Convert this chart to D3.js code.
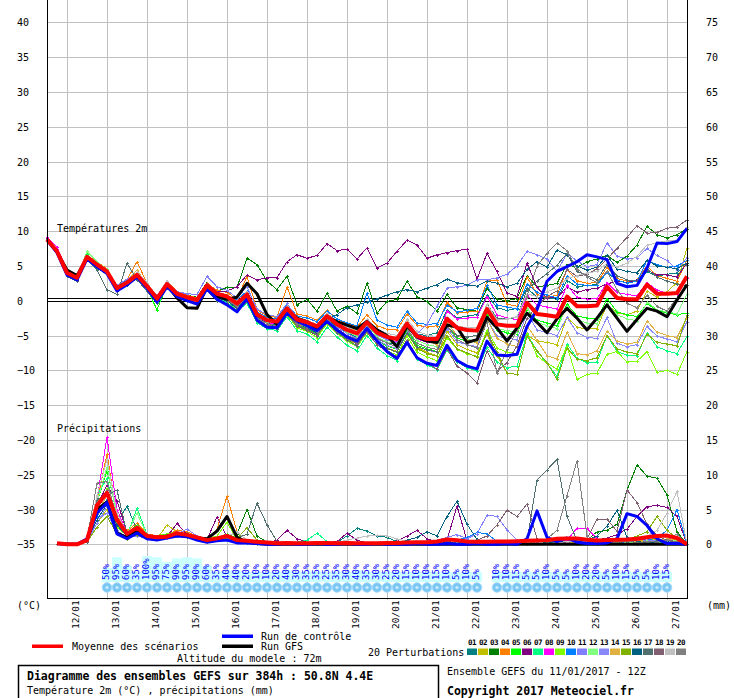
<!DOCTYPE html>
<html>
<head>
<meta charset="utf-8">
<script src="https://cdn.jsdelivr.net/npm/d3@7"></script>
<style>
body { margin: 0; background: #fff; }
text { font-family: "DejaVu Sans Mono", monospace; fill: #000; }
</style>
</head>
<body>
<svg id="chart" width="734" height="698"></svg>
<script>
// ---- data (6-hourly steps from 11/01 12Z, 0..384h) ----
const dateLabels = ["12/01","13/01","14/01","15/01","16/01","17/01","18/01","19/01","20/01","21/01","22/01","23/01","24/01","25/01","26/01","27/01"];
const tempTicks = [-35,-30,-25,-20,-15,-10,-5,0,5,10,15,20,25,30,35,40];
const precTicks = [0,5,10,15,20,25,30,35,40,45,50,55,60,65,70,75];
const pertColors = ["#008080","#c0c000","#008000","#ff8000","#00ff00","#800080","#00ff80","#ff00ff","#80ff00","#0080ff",
                    "#8080ff","#80ff80","#8888f8","#e0b040","#80b000","#006080","#507070","#806070","#c0c0c0","#808080"];

const meanT = [8.8,7.1,4.0,3.3,6.3,5.2,4.2,1.8,2.6,3.7,2.1, 0.3,2.4,1.0,0.5,0.1,2.2,1.0,0.6,-0.4,0.9,
  -2.0,-2.8,-3.0,-1.1,-2.7,-3.1,-3.7,-2.2,-3.4,-4.2,-4.7,-3.1, -4.6,-5.2,-5.5,-3.3,-5.1,-5.5,-5.5,-2.6,-3.9,-4.2,-4.3,-1.2,
  -3.4,-3.6,-3.6,-0.3,-1.9,-2.1,-2.3,0.6,-0.8,-0.8, -0.7,2.0,0.4,0.2,0.2,2.3,1.0,1.0,1.1,3.5];
const controlT = [8.7,6.9,3.7,3.0,6.0,4.9,3.9,1.4,2.3,3.4,1.8, -0.2,2.0,0.6,0.0,-0.5,1.7,0.2,-0.6,-1.6,0.3,
  -2.8,-3.8,-3.9,-1.8,-2.9,-3.6,-4.3,-3.0,-4.2,-5.2,-5.8,-4.0, -5.8,-7.3,-8.3,-6.0,-8.2,-9.0,-9.3,-6.4,-8.6,-9.4,-9.8,-5.8,
  -7.8,-7.9,-7.7,-3.7,-1.3,2.8,4.2,4.9,5.6,6.6, 6.3,5.9,2.5,2.0,2.2,4.7,8.3,8.2,8.5,10.4];
const gfsT = [8.8,7.0,4.4,3.6,6.2,5.0,4.1,1.7,2.5,3.6,2.0, 0.2,2.2,0.4,-1.0,-1.1,2.0,0.6,0.2,0.5,2.5,
  1.0,-2.0,-3.4,-1.2,-2.5,-3.0,-4.0,-2.3,-3.0,-3.5,-4.0,-3.0, -4.2,-5.0,-6.6,-3.6,-5.2,-5.8,-6.0,-3.5,-3.8,-6.0,-5.6,-2.4,
  -3.9,-5.8,-3.9,-1.8,-3.1,-4.6,-2.6,-1.1,-2.5,-4.2, -2.5,-0.6,-2.5,-4.4,-2.7,-1.1,-1.5,-2.3,0.1,2.3];

const tempP01 = [8.9,6.8,3.6,2.9,6.0,4.6,3.9,1.5,2.3,3.3,1.9, 0.0,2.1,0.5,0.1,-0.2,1.8,0.5,0.4,-0.9,0.3,
  -2.6,-3.2,-3.5,-1.8,-3.3,-3.8,-4.5,-2.7,-3.8,-4.6,-5.3,-3.8, -5.4,-6.0,-6.3,-3.4,-4.8,-5.0,-4.6,-1.3,-2.5,-2.2,-2.0,0.8,
  -1.0,-1.4,-1.1,1.8,0.5,0.4,0.2,2.9,2.0,2.2, 2.3,4.1,2.9,2.6,2.8,4.2,3.5,3.8,4.0,5.2];
const tempP02 = [8.6,7.0,4.2,3.5,6.6,5.5,4.5,2.0,2.8,4.1,2.4, 0.6,2.6,1.1,0.4,-0.1,1.9,0.6,0.1,-1.1,0.2,
  -2.7,-3.5,-3.8,-1.6,-3.4,-4.0,-4.9,-3.1,-4.5,-5.6,-6.2,-4.1, -5.9,-6.8,-7.3,-4.8,-6.7,-7.4,-7.9,-4.4,-6.3,-7.0,-7.5,-4.8,
  -7.9,-10.4,-10.6,-5.0,-5.8,-6.0,-6.3,-2.4,-3.8,-4.1, -4.0,-0.5,-1.8,-2.0,-1.5,1.4,0.5,1.3,2.6,7.6];
const tempP03 = [8.8,7.3,4.3,3.6,6.5,5.4,4.4,2.2,2.5,3.6,2.0, 0.4,2.6,1.2,0.8,0.5,2.6,1.4,1.9,1.9,6.1,
  5.2,2.8,1.6,3.5,-0.6,0.2,-1.5,1.1,-1.5,-0.8,-1.8,2.5, -1.8,-0.1,0.2,2.8,0.6,-0.1,-1.5,0.9,-1.0,-1.3,-1.5,1.8,
  0.2,0.0,0.3,3.6,2.0,2.2,2.5,5.2,4.8,5.6, 6.0,6.5,5.5,6.4,8.0,10.7,9.5,9.0,9.5,10.3];
const tempP04 = [8.7,7.2,4.1,3.4,6.4,5.6,4.6,2.1,3.0,5.6,2.5, 0.6,2.9,1.3,0.8,0.4,2.5,1.5,1.2,0.2,3.5,
  -1.3,-2.2,-2.4,2.0,-1.9,-2.2,-2.8,-1.4,-2.6,-3.3,-3.8,-2.0, -3.6,-4.1,-4.2,-1.9,-3.5,-3.8,-3.6,-0.2,-1.8,-1.6,-1.5,2.8,
  3.0,-0.5,-0.8,3.4,0.9,0.5,0.8,4.5,2.9,2.5, 2.6,4.8,3.2,2.8,3.0,5.0,3.6,3.2,2.8,5.8];
const tempP05 = [8.9,7.0,3.8,3.1,6.8,5.0,3.9,1.6,2.2,3.2,1.7, -1.3,2.2,0.7,0.3,0.0,2.0,0.8,0.0,-1.0,0.5,
  -2.4,-3.6,-3.9,-1.5,-3.5,-4.0,-4.8,-2.6,-4.2,-5.3,-6.0,-4.0, -5.7,-6.5,-7.0,-4.2,-6.4,-6.9,-7.3,-3.6,-5.4,-5.8,-6.0,-2.0,
  -4.2,-4.6,-4.8,-1.2,-2.8,-3.2,-3.6,-0.5,-2.2,-2.5, -2.6,0.3,-1.6,-2.0,-2.3,-0.4,-1.4,-1.8,-2.0,-1.8];
const tempP06 = [9.0,7.0,3.7,3.0,6.2,5.1,4.0,1.7,2.5,3.5,2.0, 0.2,2.3,0.9,0.3,0.1,2.2,1.3,1.4,2.0,3.7,
  3.0,3.3,3.3,5.6,6.6,6.1,6.5,8.2,7.2,7.4,6.0,7.6, 4.7,5.4,7.1,8.7,8.0,6.1,6.6,6.9,7.2,7.4,3.1,6.8,
  4.2,1.1,0.6,5.4,1.9,0.4,0.4,2.0,1.2,1.6, 1.8,2.4,2.8,2.6,3.0,4.4,3.7,3.7,3.4,5.4];
const tempP07 = [8.7,7.1,4.1,3.4,6.5,5.3,4.3,1.9,2.7,3.9,2.2, 0.2,2.4,1.0,0.2,-0.3,1.6,0.3,-0.2,-1.4,-0.4,
  -3.2,-4.0,-4.3,-2.3,-4.3,-4.8,-5.9,-3.8,-5.2,-6.4,-7.2,-5.0, -6.8,-7.9,-8.6,-6.0,-8.4,-9.2,-9.9,-7.1,-8.8,-9.6,-10.1,-6.7,
  -8.8,-9.6,-9.4,-4.8,-7.2,-9.0,-10.9,-6.2,-8.3,-8.9, -8.8,-5.0,-7.3,-7.8,-7.9,-4.6,-6.6,-7.2,-7.6,-5.1];
const tempP08 = [9.1,7.7,4.3,3.3,6.1,5.0,4.0,1.5,2.3,3.6,2.0, 0.2,2.3,0.9,0.4,0.0,2.1,0.9,0.4,-0.6,0.8,
  -2.3,-3.1,-3.4,-1.2,-3.0,-3.5,-4.0,-2.2,-3.6,-4.4,-4.9,-3.3, -4.8,-5.5,-5.9,-3.7,-5.5,-6.0,-6.1,-1.5,-2.6,-2.5,-2.4,0.6,
  -2.0,-2.5,-2.7,0.8,-0.6,-0.9,-1.2,2.2,0.5,0.2, 0.3,2.6,1.2,0.9,0.7,2.6,1.5,1.1,0.9,3.2];
const tempP09 = [8.6,6.9,3.9,3.2,6.2,5.1,4.1,1.8,2.6,3.8,2.1, 0.1,2.2,0.8,0.3,-0.1,1.8,0.5,0.0,-1.2,0.0,
  -2.9,-3.8,-4.1,-2.0,-3.9,-4.4,-5.3,-3.3,-4.7,-5.8,-6.6,-4.6, -6.3,-7.2,-7.8,-5.1,-7.4,-8.1,-8.6,-5.3,-7.0,-7.6,-8.0,-4.2,
  -6.8,-7.4,-7.6,-4.6,-7.9,-9.0,-9.8,-6.5,-11.3,-10.6, -10.4,-7.7,-7.3,-8.8,-8.7,-7.3,-10.3,-10.0,-10.6,-7.3];
const tempP10 = [8.8,7.2,4.1,3.5,6.3,5.2,4.3,2.0,2.9,3.9,2.2, 0.5,2.5,1.1,0.6,0.2,2.4,1.2,0.8,0.1,1.4,
  -1.6,-2.4,-2.6,-0.6,-2.2,-2.5,-3.0,-1.5,-2.6,-3.2,-3.6,1.1, -2.8,-3.5,-3.8,-1.5,-3.2,-3.4,-3.3,-0.6,-1.6,-1.4,-1.1,2.2,
  -0.6,-0.9,-1.2,2.4,1.2,0.8,0.4,3.6,2.4,2.2, 2.2,4.1,3.0,2.5,2.8,5.8,5.2,4.8,5.0,5.8];
const tempP11 = [8.9,7.2,4.0,3.2,6.4,5.3,4.4,2.2,3.1,4.0,2.4, 0.7,2.7,1.3,1.0,0.9,3.5,2.0,1.5,0.4,2.0,
  -1.2,-2.0,-2.3,-0.4,-2.4,-3.0,-3.6,-2.4,-3.8,-4.7,-5.4,-3.6, -4.9,-5.6,-6.0,-3.2,-4.8,-3.4,-0.8,1.8,2.0,2.2,3.0,3.0,
  3.3,3.8,5.0,7.1,6.6,6.0,4.2,6.8,5.7,4.9, 5.2,8.3,6.4,6.0,6.2,7.5,6.5,5.8,4.4,6.2];
const tempP12 = [8.7,7.0,4.0,3.3,7.1,5.6,4.5,2.0,2.7,3.9,2.3, 0.3,2.4,0.9,0.2,-0.1,2.3,0.9,0.5,-0.6,1.2,
  -2.2,-3.0,-3.2,-0.9,-2.8,-3.4,-4.1,-2.0,-3.5,-4.5,-5.1,-3.4, -5.2,-5.9,-6.2,-3.5,-5.7,-6.3,-6.6,-3.2,-5.0,-5.5,-5.9,-1.4,
  -4.0,-4.3,-4.5,-1.0,-3.1,-3.6,-4.0,-0.8,-2.7,-3.2, -3.3,-0.4,-2.0,-2.6,-2.9,-0.2,-1.3,-1.6,-1.9,0.9];
const tempP13 = [8.8,7.1,4.0,3.4,6.2,5.1,4.2,1.8,2.5,3.6,2.1, 0.3,2.3,0.9,0.4,0.3,2.0,0.8,0.3,-0.5,0.7,
  -2.4,-3.3,-3.6,-1.4,-3.1,-3.7,-4.4,-2.8,-4.1,-5.0,-5.7,-3.9, -5.6,-6.4,-6.9,-4.5,-6.6,-7.1,-7.4,-4.0,-5.9,-6.3,-6.6,-2.7,
  -5.1,-5.4,-5.6,-1.8,-4.2,-4.6,-5.0,-2.4,-4.6,-5.3, -5.4,-2.4,-6.1,-6.6,-6.3,-3.7,-5.1,-5.5,-5.9,-3.0];
const tempP14 = [8.7,7.0,4.2,3.4,6.0,5.3,4.4,1.9,2.8,4.4,2.3, 0.4,2.6,1.2,0.7,0.3,2.3,1.1,0.9,-0.1,1.0,
  -1.8,-2.6,-2.9,-0.8,-2.5,-2.9,-3.5,-1.8,-3.0,-3.8,-4.4,-2.8, -4.4,-5.1,-5.5,-3.1,-5.1,-5.8,-6.3,-3.1,-5.0,-5.6,-6.1,-2.7,
  -5.4,-6.2,-6.6,-3.6,-5.7,-7.9,-8.4,-4.5,-7.6,-7.8, -7.2,-4.4,-5.8,-6.2,-6.0,-2.9,-4.5,-5.0,-5.3,-2.4];
const tempP15 = [8.8,7.0,3.9,3.2,6.3,5.1,4.1,1.7,2.6,3.8,2.2, 0.3,2.4,1.0,0.4,0.0,2.0,0.7,0.2,-0.8,0.5,
  -2.7,-3.6,-3.8,-1.9,-3.7,-4.3,-5.0,-3.1,-4.5,-5.5,-6.1,-4.2, -6.0,-6.9,-7.4,-4.6,-6.9,-7.6,-8.0,-5.0,-6.9,-7.5,-8.1,-4.6,
  -7.4,-10.4,-10.6,-5.1,-7.2,-8.9,-11.3,-6.8,-8.4,-8.6, -8.2,-5.0,-6.9,-7.4,-7.6,-4.8,-6.0,-6.2,-6.5,-2.0];
const tempP16 = [8.8,6.9,3.6,2.8,5.8,4.7,3.8,1.4,2.2,3.4,1.8, 0.0,2.1,0.6,0.1,-0.3,1.6,0.4,0.0,-1.1,0.2,
  -2.4,-3.3,-3.7,-1.4,-3.2,-3.9,-4.6,-2.5,-2.0,-1.0,-0.6,-0.2, 0.3,0.8,1.3,1.6,1.3,1.8,2.3,3.1,2.6,2.3,2.1,2.8,
  2.5,2.0,2.5,4.5,5.6,4.8,7.3,6.6,5.0,4.4, 4.8,6.5,4.6,4.2,4.0,5.8,5.0,4.8,4.6,5.4];
const tempP17 = [8.7,6.8,3.5,2.8,5.9,4.4,1.6,0.9,5.4,3.0,1.4, -0.3,1.8,0.4,0.0,-0.4,1.5,0.0,-0.4,-1.5,-0.1,
  -2.8,-3.6,-4.0,-1.7,-3.6,-4.2,-5.0,-3.0,-4.6,-5.6,-6.5,-4.3, -6.0,-6.8,-7.4,-4.6,-6.6,-7.1,-7.3,-3.7,-5.0,-5.2,-5.0,-0.5,
  -2.5,-2.6,-2.4,1.6,2.8,3.9,5.1,6.8,4.2,3.6, 3.0,5.2,3.6,3.0,2.8,4.6,3.4,2.8,2.4,2.2];
const tempP18 = [8.8,7.0,3.9,3.1,6.2,5.0,4.0,1.6,2.4,3.5,1.9, 0.1,2.2,0.8,0.2,-0.2,1.9,0.6,0.1,-0.9,0.4,
  -2.6,-3.5,-3.8,-1.7,-3.5,-4.1,-4.9,-2.9,-4.3,-5.4,-6.2,-4.5, -6.3,-7.3,-8.0,-5.6,-8.1,-9.0,-9.8,-6.9,-9.4,-10.4,-11.8,-7.2,
  -10.1,-8.9,-6.5,-2.5,-0.8,0.6,1.4,4.5,3.5,3.8, 4.6,6.0,7.5,9.1,10.8,9.7,9.8,10.4,10.6,11.6];
const tempP19 = [8.8,7.1,4.1,3.5,6.4,5.3,4.3,1.9,2.7,4.1,2.6, 0.6,2.9,1.0,0.6,0.2,2.2,1.0,0.5,-0.2,1.3,
  -1.9,-2.7,-2.9,-0.8,-2.4,-2.8,-3.4,-1.8,-3.0,-3.8,-4.2,-2.6, -4.1,-4.7,-5.0,-2.7,-4.4,-4.9,-5.2,-2.4,-3.6,-3.9,-3.8,-0.5,
  -2.8,-2.6,-2.3,1.0,0.6,1.3,1.8,3.2,3.6,4.0, 4.2,5.4,4.8,5.4,6.4,8.0,8.3,8.6,8.7,10.6];
const tempP20 = [8.9,7.2,4.0,3.3,6.2,5.0,4.0,1.6,2.4,3.6,2.0, -0.1,2.1,0.7,0.3,-0.2,1.9,0.6,0.2,-0.8,0.6,
  -2.5,-3.3,-3.6,-1.5,-3.3,-3.8,-4.5,-2.7,-4.0,-5.0,-5.5,-3.8, -5.4,-6.1,-6.6,-4.0,-6.1,-6.7,-7.0,-3.6,-5.6,-6.3,-6.8,-3.0,
  -10.4,-7.0,-4.2,0.6,5.0,6.8,8.3,7.2,4.6,3.4, 2.6,4.2,1.6,-0.4,-1.0,0.8,-0.8,-1.5,0.4,2.2];

// precipitation (mm per 6h), first step has no value
const meanP = [null, 0.15,0,0,0.6,5.6,7.4,3.5,1.5,2.4,1.2, 1.0,1.1,1.6,1.35,1.0,0.6,0.85,1.2,0.6,0.5,
  0.35,0.25,0.15,0.2,0.15,0.15,0.2,0.2,0.15,0.2, 0.15,0.15,0.15,0.2,0.2,0.25,0.3,0.3,0.4,0.7,
  0.6,0.4,0.35,0.35,0.4,0.4,0.45,0.5,0.55,0.6, 0.8,0.85,0.85,0.65,0.55,0.6,0.65,0.7,0.8,1.0, 1.2,1.25,0.9,0.0];
const controlP = [null, 0.1,0,0,0.8,4.5,6.0,1.5,0.8,1.6,0.8, 0.6,0.9,1.2,1.1,0.6,0.3,0.5,0.6,0.2,0.2,
  0.1,0.0,0.0,0.1,0.0,0.0,0.1,0.0,0.0,0.1, 0.0,0.0,0.1,0.0,0.0,0.0,0.1,0.0,0.0,0.1,
  0.0,0.0,0.1,0.0,0.0,0.1,0.0,0.8,4.8,1.0, 0.4,0.9,0.3,0.1,0.1,0.2,0.8,4.4,4.0,2.7, 0.8,0.1,0.1,0.0];
const gfsP = [null, 0.1,0,0,0.6,5.0,6.1,1.6,1.0,2.0,1.2, 1.0,1.2,1.4,1.2,0.9,0.8,1.9,4.0,1.0,0.3,
  0.1,0.0,0.0,0.0,0.0,0.0,0.0,0.0,0.0,0.0, 0.0,0.0,0.0,0.0,0.0,0.0,0.0,0.0,0.0,0.0,
  0.0,0.0,0.0,0.0,0.0,0.0,0.0,0.0,0.0,0.0, 0.0,0.0,0.0,0.0,0.0,0.0,0.0,0.0,0.0,0.0, 0.0,0.0,0.0,0.0];

const precP01 = [null, 0.1,0,0,0.6,4.5,6.0,3.0,5.5,2.0,1.0, 0.8,1.2,1.5,1.0,0.8,0.4,0.6,1.0,0.3,0.2,
  0.1,0.1,0.2,0.1,0.0,0.1,0.2,0.1,0.3,1.2, 2.3,1.9,1.2,1.0,0.4,0.1,0.2,0.1,0.0,0.1,
  0.2,0.1,0.0,0.0,0.1,0.2,0.0,0.1,0.3,0.2, 0.1,0.0,0.1,0.2,0.0,0.1,0.3,0.2,0.1,0.2, 0.5,0.3,0.2,0.0];
const precP02 = [null, 0.1,0,0,0.3,3.0,5.0,2.0,1.0,1.5,0.8, 0.8,2.8,1.8,1.2,0.8,0.4,0.6,1.0,0.4,0.3,
  0.2,0.1,0.0,0.1,0.0,0.2,0.1,0.0,0.1,0.2, 0.1,0.0,0.1,0.2,0.1,0.0,0.0,0.1,0.2,0.1,
  0.0,0.1,0.2,0.1,0.0,0.1,0.2,0.3,0.1,0.2, 0.4,0.2,0.1,0.3,0.2,0.1,0.2,0.4,0.6,0.5, 0.8,0.6,0.9,0.0];
const precP03 = [null, 0.1,0,0,0.5,5.0,7.5,3.5,1.2,2.2,1.0, 1.0,1.0,1.8,1.5,1.0,0.5,0.8,1.2,1.5,5.0,
  1.2,0.3,0.1,0.2,0.1,0.0,0.1,0.2,0.1,0.0, 0.1,0.0,0.0,0.1,0.2,0.0,0.1,0.0,0.1,0.3,
  0.2,0.1,0.0,0.1,0.0,0.2,0.1,0.0,0.1,0.2, 0.3,0.2,0.4,0.6,1.8,2.0,2.9,7.8,11.4,9.8, 9.5,7.1,1.8,0.0];
const precP04 = [null, 0.1,0,0,0.4,6.0,13.0,4.0,2.0,3.0,1.5, 1.2,1.4,2.0,1.8,1.2,0.8,2.2,6.9,1.8,0.6,
  0.4,0.2,0.1,0.0,0.1,0.0,0.2,0.1,0.0,0.1, 0.0,0.1,0.0,0.1,0.0,0.2,0.1,0.0,0.0,0.1,
  0.1,0.0,0.1,0.2,0.0,0.1,0.0,0.1,0.2,0.1, 0.0,0.2,0.3,0.1,0.2,0.4,0.3,0.2,0.5,0.4, 0.6,0.4,0.8,0.0];
const precP05 = [null, 0.1,0,0,0.7,6.0,10.6,4.5,1.5,2.8,1.2, 1.0,1.2,1.5,1.2,0.9,0.6,0.9,1.5,0.8,0.4,
  0.3,0.2,0.1,0.1,0.0,0.1,0.0,0.1,0.2,0.0, 0.1,0.0,0.1,0.0,0.2,0.1,0.0,0.1,0.0,0.2,
  0.1,0.0,0.1,0.0,0.1,0.0,0.2,0.1,0.0,0.1, 0.2,0.1,0.3,0.2,0.1,0.3,0.4,0.2,0.3,0.5, 0.4,0.3,0.6,0.0];
const precP06 = [null, 0.1,0,0,0.5,5.5,8.5,6.2,1.8,2.0,1.0, 0.9,1.1,3.0,1.4,1.0,0.7,3.9,1.0,0.5,0.3,
  0.2,0.2,0.6,2.0,0.8,0.3,0.1,0.2,0.4,1.6, 0.6,0.2,0.1,0.2,0.5,1.2,2.0,0.8,0.3,0.6,
  5.5,0.5,0.2,0.1,0.2,0.3,0.1,0.2,0.4,0.6, 0.3,0.2,0.4,0.3,0.6,0.9,1.4,2.2,4.0,5.4, 5.6,5.3,4.0,0.0];
const precP07 = [null, 0.1,0,0,0.4,7.0,9.5,3.0,1.2,5.2,1.4, 1.1,1.0,1.4,1.6,1.0,0.6,0.8,1.0,0.4,0.3,
  0.2,0.1,0.0,0.1,0.3,0.6,1.6,0.4,0.1,0.0, 0.1,0.0,0.0,0.1,0.0,0.2,0.1,0.0,0.1,0.0,
  0.0,0.1,0.0,0.2,0.1,0.0,0.1,0.0,0.2,0.1, 0.1,0.0,0.2,0.1,0.0,0.2,0.1,0.3,0.2,0.1, 0.3,0.2,0.4,0.0];
const precP08 = [null, 0.1,0,0,0.6,6.5,15.4,5.0,1.6,2.5,1.2, 0.9,1.0,1.6,1.2,1.0,0.5,0.7,1.1,0.5,0.4,
  0.2,0.1,0.2,0.0,0.1,0.2,0.1,0.0,0.1,0.2, 0.0,0.1,0.0,0.1,0.2,0.0,0.1,0.2,0.0,0.1,
  0.2,0.1,0.0,0.1,0.0,0.1,0.2,0.1,0.3,0.2, 0.4,0.6,2.3,2.3,0.8,0.3,0.2,0.4,0.3,0.5, 0.6,0.4,0.5,0.0];
const precP09 = [null, 0.1,0,0,0.5,5.0,8.0,2.5,1.2,1.8,1.0, 1.2,1.5,1.8,1.4,1.0,0.8,1.2,3.2,0.6,0.4,
  0.3,0.1,0.0,0.1,0.2,0.0,0.1,0.0,0.1,0.0, 0.2,0.1,0.0,0.1,0.0,0.1,0.0,0.2,0.1,0.0,
  0.1,0.2,0.0,0.1,0.0,0.1,0.0,0.1,0.2,0.0, 0.1,0.2,0.3,0.1,0.2,0.1,0.3,0.2,0.4,0.3, 0.5,0.2,0.3,0.0];
const precP10 = [null, 0.1,0,0,0.8,4.0,6.5,2.0,1.0,1.5,0.9, 0.8,0.9,1.3,1.0,0.7,0.4,0.6,0.9,0.3,0.2,
  0.1,0.0,0.1,0.0,0.1,0.2,0.0,0.1,0.0,0.1, 0.2,0.1,0.0,0.1,0.0,0.0,0.1,0.3,0.2,0.4,
  0.6,1.0,1.7,1.5,0.4,0.2,0.1,0.0,0.2,0.1, 0.2,0.1,0.0,0.2,0.1,0.3,0.2,0.4,0.8,0.6, 0.9,2.0,5.0,0.0];
const precP11 = [null, 0.1,0,0,0.3,3.5,4.5,1.8,0.9,1.2,0.8, 0.7,0.9,1.4,2.2,1.2,0.6,0.7,1.0,0.4,0.3,
  0.2,0.1,0.0,0.1,0.0,0.1,0.2,0.0,0.1,0.2, 0.1,0.0,0.2,0.1,0.3,0.5,0.4,0.2,0.6,1.0,
  1.4,0.8,1.5,4.2,4.0,2.1,0.6,0.3,0.2,0.4, 0.3,0.2,0.5,0.4,0.2,0.6,0.8,0.5,0.3,0.6, 0.4,0.5,0.7,0.0];
const precP12 = [null, 0.1,0,0,0.6,6.0,11.1,4.0,1.4,4.5,1.3, 1.0,1.1,1.5,1.3,0.8,0.5,0.8,1.2,0.5,0.3,
  0.2,0.1,0.0,0.2,0.1,0.0,0.1,0.2,0.0,0.1, 0.0,0.1,0.2,0.0,0.1,0.0,0.2,0.1,0.0,0.1,
  0.0,0.1,0.2,0.0,0.1,0.2,0.0,0.1,0.0,0.2, 0.1,0.3,0.2,0.1,0.3,0.2,0.4,0.3,0.2,0.5, 0.3,0.4,0.6,0.0];
const precP13 = [null, 0.1,0,0,0.4,3.0,5.5,2.0,1.0,1.6,1.0, 0.8,1.0,1.2,1.4,0.9,0.5,0.7,1.0,0.4,0.3,
  0.1,0.2,0.0,0.1,0.0,0.2,0.1,0.0,0.1,0.0, 0.1,0.0,0.1,0.2,0.0,0.1,0.0,0.1,0.2,0.0,
  0.1,0.0,0.2,0.1,0.0,0.1,0.2,0.0,0.1,0.3, 0.2,0.1,0.3,0.2,0.4,0.3,0.2,0.5,0.3,0.4, 0.6,0.3,0.5,0.0];
const precP14 = [null, 0.1,0,0,0.5,4.5,7.0,3.0,1.3,2.0,1.1, 0.9,1.3,1.6,1.2,1.1,0.6,1.0,1.4,0.5,0.4,
  0.2,0.1,0.1,0.0,0.1,0.2,0.0,0.1,0.0,0.1, 0.2,0.0,0.1,0.0,0.1,0.0,0.2,0.1,0.0,0.1,
  0.2,0.0,0.1,0.0,0.2,0.1,0.0,0.2,0.1,0.0, 0.2,0.1,0.4,0.2,0.1,0.3,0.2,0.5,0.4,0.3, 0.5,0.8,0.6,0.0];
const precP15 = [null, 0.1,0,0,0.3,2.5,4.0,1.5,0.8,1.4,0.9, 0.7,1.2,1.4,1.0,0.8,0.4,0.6,0.9,0.8,2.4,
  0.6,0.2,0.1,0.0,0.1,0.0,0.2,0.1,0.0,0.1, 0.0,0.1,0.0,0.2,0.1,0.0,0.1,0.0,0.1,0.2,
  0.1,0.0,0.2,0.1,0.0,0.1,0.0,0.2,0.1,0.0, 0.1,0.2,0.1,0.3,0.2,0.1,0.4,0.6,1.2,1.8, 4.0,2.0,0.8,0.0];
const precP16 = [null, 0.1,0,0,0.7,3.5,5.8,2.8,1.1,1.9,1.0, 0.9,1.0,1.3,1.1,0.8,0.5,0.7,1.1,0.4,0.3,
  0.2,0.1,0.0,0.1,0.0,0.1,0.0,0.2,0.1,0.0, 0.1,0.2,0.0,0.1,0.3,0.6,1.0,1.8,1.2,4.0,
  6.2,2.9,0.7,0.2,0.1,0.0,0.2,0.1,0.3,0.2, 0.4,0.3,0.5,0.6,1.2,2.6,4.9,1.0,0.4,0.2, 0.3,0.5,0.4,0.0];
const precP17 = [null, 0.1,0,0,0.4,6.5,7.0,7.8,1.5,2.2,1.2, 1.0,1.1,1.2,1.6,1.0,0.6,0.9,1.3,0.8,1.5,
  5.9,2.8,0.4,0.1,0.0,0.1,0.2,0.0,0.1,0.0, 0.1,0.0,0.2,0.1,0.0,0.1,0.0,0.2,0.1,0.0,
  0.1,0.2,0.0,0.1,0.0,0.2,0.1,0.5,9.2,10.7, 12.2,4.0,0.5,0.2,0.1,0.3,0.2,0.4,0.3,0.2, 0.5,0.3,0.4,0.0];
const precP18 = [null, 0.1,0,0,0.5,5.0,7.8,3.5,1.3,2.4,1.2, 1.1,1.2,1.8,1.5,1.0,0.6,0.9,1.2,0.5,0.4,
  0.2,0.1,0.0,0.1,0.2,0.0,0.1,0.0,0.2,0.1, 0.0,0.1,0.0,0.2,0.1,0.0,0.1,0.3,0.2,0.1,
  0.3,0.2,0.6,1.2,2.8,4.9,4.0,5.8,0.8,0.4, 0.3,0.2,0.6,0.8,3.6,3.6,1.9,7.8,6.0,2.9, 1.2,0.6,0.4,0.0];
const precP19 = [null, 0.1,0,0,0.6,7.0,12.2,4.5,1.6,2.6,1.2, 1.0,1.2,1.7,1.3,1.0,0.6,0.8,1.1,1.8,0.6,
  0.3,0.2,0.1,0.0,0.1,0.2,0.0,0.1,0.3,0.6, 0.9,1.2,1.3,1.2,0.8,0.4,0.2,0.1,0.0,0.1,
  0.2,0.1,0.0,0.1,0.2,0.0,0.1,0.2,0.3,0.1, 0.2,0.4,0.3,0.2,0.5,0.3,0.6,0.8,0.9,1.2, 2.0,4.5,7.6,0.0];
const precP20 = [null, 0.1,0,0,0.8,8.8,9.0,3.8,1.4,2.2,1.1, 0.9,1.2,1.6,1.2,0.9,0.5,0.8,1.0,0.4,0.3,
  0.1,0.2,0.0,0.1,0.0,0.2,0.1,0.0,0.1,0.0, 0.2,0.1,0.0,0.1,0.2,0.0,0.1,0.0,0.2,0.1,
  0.0,0.1,0.2,0.1,0.0,0.1,0.2,0.1,0.4,0.8, 2.0,7.0,12.0,1.2,0.4,0.2,0.3,0.5,0.2,0.4, 0.3,0.6,1.5,0.0];

// snow probability (%) per step, null where none
const snowPct = [null,null,null,null,null,null,
  50,95,60,35,100,95,75,90,95,90,60,35,40,40,20,10,10,20,40,30,35,35,25,35,30,40,35,
  30,25,20,15,10,10,15,10,5,10,5, null,
  10,10,15,5,5,10,5,5,10,20,20,5,10,15,5,5,10,15, null,null];

const tempPerts = [tempP01,tempP02,tempP03,tempP04,tempP05,tempP06,tempP07,tempP08,tempP09,tempP10,
                   tempP11,tempP12,tempP13,tempP14,tempP15,tempP16,tempP17,tempP18,tempP19,tempP20];
const precPerts = [precP01,precP02,precP03,precP04,precP05,precP06,precP07,precP08,precP09,precP10,
                   precP11,precP12,precP13,precP14,precP15,precP16,precP17,precP18,precP19,precP20];

// ---- drawing ----
var svg = d3.select("#chart");
var x = d3.scaleLinear().domain([0, 384]).range([47, 687]);
var yT = d3.scaleLinear().domain([-35, 40]).range([544.3, 22.3]);
var yP = d3.scaleLinear().domain([0, 75]).range([544.3, 22.3]);
var dateHours = dateLabels.map((d, i) => 12 + 24 * i);
var px = v => Math.round(v) + 0.5;

// grid
var grid = svg.append("g").attr("shape-rendering", "crispEdges").attr("stroke", "#c0c0c0").attr("stroke-width", 1);
grid.selectAll("line.v").data(dateHours).join("line").attr("class", "v")
  .attr("x1", d => px(x(d))).attr("x2", d => px(x(d))).attr("y1", 0).attr("y2", 600);
grid.selectAll("line.h").data(tempTicks).join("line").attr("class", "h")
  .attr("x1", 47).attr("x2", 687).attr("y1", d => px(yT(d))).attr("y2", d => px(yT(d)));

// zero line (double)
var z = Math.round(yT(0));
svg.append("g").attr("shape-rendering", "crispEdges").selectAll("line").data([z - 2.5, z + 0.5]).join("line")
  .attr("x1", 47).attr("x2", 687).attr("y1", d => d).attr("y2", d => d)
  .attr("stroke", "#000").attr("stroke-width", 1);

// snow probability
var snowIdx = snowPct.map((p, i) => ({ p: p, h: i * 6 })).filter(d => d.p != null);
svg.append("g").selectAll("rect").data(snowIdx).join("rect")
  .attr("x", d => x(d.h) - 5).attr("width", 10)
  .attr("y", d => Math.min(572, 580 - 0.24 * d.p))
  .attr("height", d => 582 - Math.min(572, 580 - 0.24 * d.p))
  .attr("fill", "#ccffff");
var flakes = svg.append("g");
flakes.selectAll("circle.o").data(snowIdx).join("circle").attr("class", "o")
  .attr("cx", d => x(d.h)).attr("cy", 587.5).attr("r", 4.8)
  .attr("fill", "#7cc6f2").attr("stroke", "#a6dcff").attr("stroke-width", 1);
flakes.selectAll("circle.i").data(snowIdx).join("circle").attr("class", "i")
  .attr("cx", d => x(d.h)).attr("cy", 587.5).attr("r", 1.6)
  .attr("fill", "#c8ecff");
svg.append("g").selectAll("text").data(snowIdx).join("text")
  .attr("transform", d => "translate(" + (x(d.h) + 1.5) + ",580) rotate(-90)")
  .attr("font-size", 9).style("fill", "#0000ff")
  .text(d => d.p + "%");

// series lines
var lineT = d3.line().x((d, i) => x(i * 6)).y(d => yT(d));
var lineP = d3.line().defined(d => d != null).x((d, i) => x(i * 6)).y(d => yP(d));
var plus = "M-1.5,0H1.5M0,-1.5V1.5";

function drawPerts(data, line, yScale) {
  var g = svg.append("g");
  data.forEach((s, k) => {
    g.append("path").datum(s).attr("d", line)
      .attr("fill", "none").attr("stroke", pertColors[k]).attr("stroke-width", 1)
      .attr("shape-rendering", "crispEdges");
    g.selectAll(null).data(s.map((v, i) => ({ v: v, i: i })).filter(d => d.v != null)).join("path")
      .attr("transform", d => "translate(" + Math.round(x(d.i * 6)) + "," + Math.round(yScale(d.v)) + ")")
      .attr("d", plus).attr("stroke", pertColors[k]).attr("stroke-width", 1)
      .attr("shape-rendering", "crispEdges");
  });
}
function drawMain(s, line, color, w) {
  svg.append("path").datum(s).attr("d", line)
    .attr("fill", "none").attr("stroke", color).attr("stroke-width", w)
    .attr("stroke-linejoin", "round");
}

drawPerts(precPerts, lineP, yP);
drawMain(gfsP, lineP, "#000000", 3);
drawMain(controlP, lineP, "#0000ff", 3);
drawMain(meanP, lineP, "#ff0000", 4);

drawPerts(tempPerts, lineT, yT);
drawMain(gfsT, lineT, "#000000", 3);
drawMain(controlT, lineT, "#0000ff", 3);
drawMain(meanT, lineT, "#ff0000", 4);

// frame
var frame = svg.append("g").attr("shape-rendering", "crispEdges").attr("stroke", "#000").attr("stroke-width", 1);
frame.append("line").attr("x1", 47.5).attr("x2", 47.5).attr("y1", 0).attr("y2", 599);
frame.append("line").attr("x1", 687.5).attr("x2", 687.5).attr("y1", 0).attr("y2", 599);
frame.append("line").attr("x1", 47).attr("x2", 688).attr("y1", 598.5).attr("y2", 598.5);

// axes labels
var axL = svg.append("g").attr("transform", "translate(17,0)")
  .call(d3.axisLeft(yT).tickValues(tempTicks).tickSize(0).tickPadding(0));
axL.select(".domain").remove();
axL.selectAll("text").attr("x", 0).attr("dy", "0.35em").attr("text-anchor", "start")
  .attr("font-size", 10).attr("font-family", "DejaVu Sans Mono");

var axR = svg.append("g").attr("transform", "translate(706,0)")
  .call(d3.axisRight(yP).tickValues(precTicks).tickSize(0).tickPadding(0));
axR.select(".domain").remove();
axR.selectAll("text").attr("x", 0).attr("dy", "0.35em").attr("text-anchor", "start")
  .attr("font-size", 10).attr("font-family", "DejaVu Sans Mono");

var axB = svg.append("g")
  .call(d3.axisBottom(x).tickValues(dateHours).tickFormat((d, i) => dateLabels[i]).tickSize(0));
axB.select(".domain").remove();
axB.selectAll("text").attr("y", 0).attr("dy", 0).attr("text-anchor", "start")
  .attr("transform", "translate(11,629) rotate(-90)")
  .attr("font-size", 9.5).attr("font-family", "DejaVu Sans Mono");

// titles inside plot
svg.append("text").attr("x", 57).attr("y", 232).attr("font-size", 10).text("Températures 2m");
svg.append("text").attr("x", 57).attr("y", 432).attr("font-size", 10).text("Précipitations");
svg.append("text").attr("x", 17).attr("y", 609).attr("font-size", 10).text("(°C)");
svg.append("text").attr("x", 707).attr("y", 609).attr("font-size", 10).text("(mm)");

// legend
var leg = svg.append("g");
leg.append("rect").attr("x", 32).attr("y", 644.5).attr("width", 31).attr("height", 3.5).attr("fill", "#ff0000");
leg.append("text").attr("x", 72).attr("y", 650).attr("font-size", 10).text("Moyenne des scénarios");
leg.append("rect").attr("x", 222).attr("y", 634.5).attr("width", 31).attr("height", 3.5).attr("fill", "#0000ff");
leg.append("text").attr("x", 261).attr("y", 640).attr("font-size", 10).text("Run de contrôle");
leg.append("rect").attr("x", 222).attr("y", 644.5).attr("width", 31).attr("height", 3.5).attr("fill", "#000000");
leg.append("text").attr("x", 261).attr("y", 650).attr("font-size", 10).text("Run GFS");
leg.append("text").attr("x", 177).attr("y", 662).attr("font-size", 10).text("Altitude du modele : 72m");
leg.append("text").attr("x", 368).attr("y", 656).attr("font-size", 10).text("20 Perturbations");
leg.selectAll("rect.pb").data(pertColors).join("rect").attr("class", "pb")
  .attr("x", (d, i) => 467 + i * 11).attr("y", 648.5).attr("width", 10).attr("height", 6.5).attr("fill", d => d);
leg.selectAll("text.pl").data(pertColors).join("text").attr("class", "pl")
  .attr("x", (d, i) => 472 + i * 11).attr("y", 645).attr("text-anchor", "middle")
  .attr("font-size", 7.5).attr("font-weight", "bold").attr("letter-spacing", -0.5)
  .text((d, i) => d3.format("02d")(i + 1));

// footer
svg.append("rect").attr("x", 18.5).attr("y", 665.5).attr("width", 420).attr("height", 40)
  .attr("fill", "none").attr("stroke", "#000").attr("stroke-width", 1.5);
svg.append("text").attr("x", 27).attr("y", 680).attr("font-size", 11.5).attr("font-weight", "bold")
  .text("Diagramme des ensembles GEFS sur 384h : 50.8N 4.4E");
svg.append("text").attr("x", 27).attr("y", 694).attr("font-size", 10)
  .text("Température 2m (°C) , précipitations (mm)");
svg.append("text").attr("x", 447).attr("y", 675).attr("font-size", 10)
  .text("Ensemble GEFS du 11/01/2017 - 12Z");
svg.append("text").attr("x", 447).attr("y", 695).attr("font-size", 11.5).attr("font-weight", "bold")
  .text("Copyright 2017 Meteociel.fr");
</script>
</body>
</html>
